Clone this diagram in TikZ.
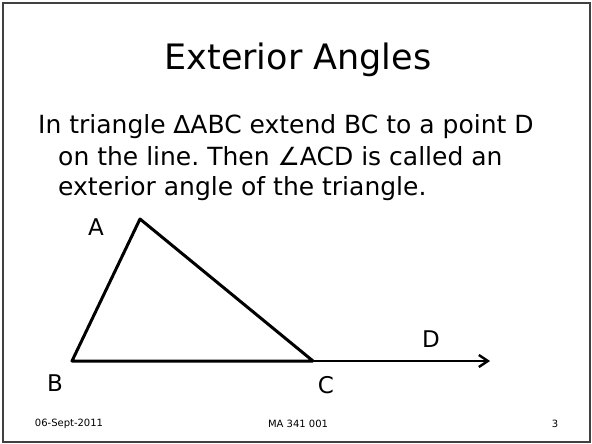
\documentclass[tikz,border=0pt]{standalone}
\usepackage{fontspec}
\setmainfont{DejaVu Sans}
\usetikzlibrary{arrows.meta}
\frenchspacing

\begin{document}
\begin{tikzpicture}[
    x=1pt, y=-1pt,
    every node/.style={inner sep=0pt},
    title/.style={font=\fontsize{35}{40}\selectfont, anchor=base},
    body/.style={font=\fontsize{25}{30}\selectfont, anchor=base west},
    vlabel/.style={font=\fontsize{23}{26}\selectfont},
    footer/.style={font=\fontsize{10}{12}\selectfont},
    side/.style={line width=3pt, line join=round},
    ray/.style={line width=2.4pt, -{Straight Barb[length=9pt,width=12pt,line width=2.4pt]}}
]
    \useasboundingbox (0,0) rectangle (592,444);
    \draw[line width=2pt, black!75] (3,3) rectangle (590,442);

    % slide text
    \node[title] (title) at (298,70) {Exterior Angles};
    \node[body] (line1) at (38,133) {In triangle ∆ABC extend BC to a point D};
    \node[body] (line2) at (58,165) {on the line. Then ∠ACD is called an};
    \node[body] (line3) at (58,195) {exterior angle of the triangle.};

    % triangle and extended side
    \coordinate (A) at (140,219);
    \coordinate (B) at (72,361);
    \coordinate (C) at (313,361);
    \coordinate (D) at (490,361);
    \draw[side] (C) -- (A) -- (B) -- (C);
    \draw[ray] (C) -- (D);

    \node[vlabel] (lA) at (96,227) {A};
    \node[vlabel] (lB) at (55,383) {B};
    \node[vlabel] (lC) at (326,385) {C};
    \node[vlabel] (lD) at (431,339) {D};

    % footer
    \node[footer] (date) at (69,424) {06-Sept-2011};
    \node[footer] (course) at (298,424) {MA 341 001};
    \node[footer] (page) at (555,424) {3};
\end{tikzpicture}
\end{document}
